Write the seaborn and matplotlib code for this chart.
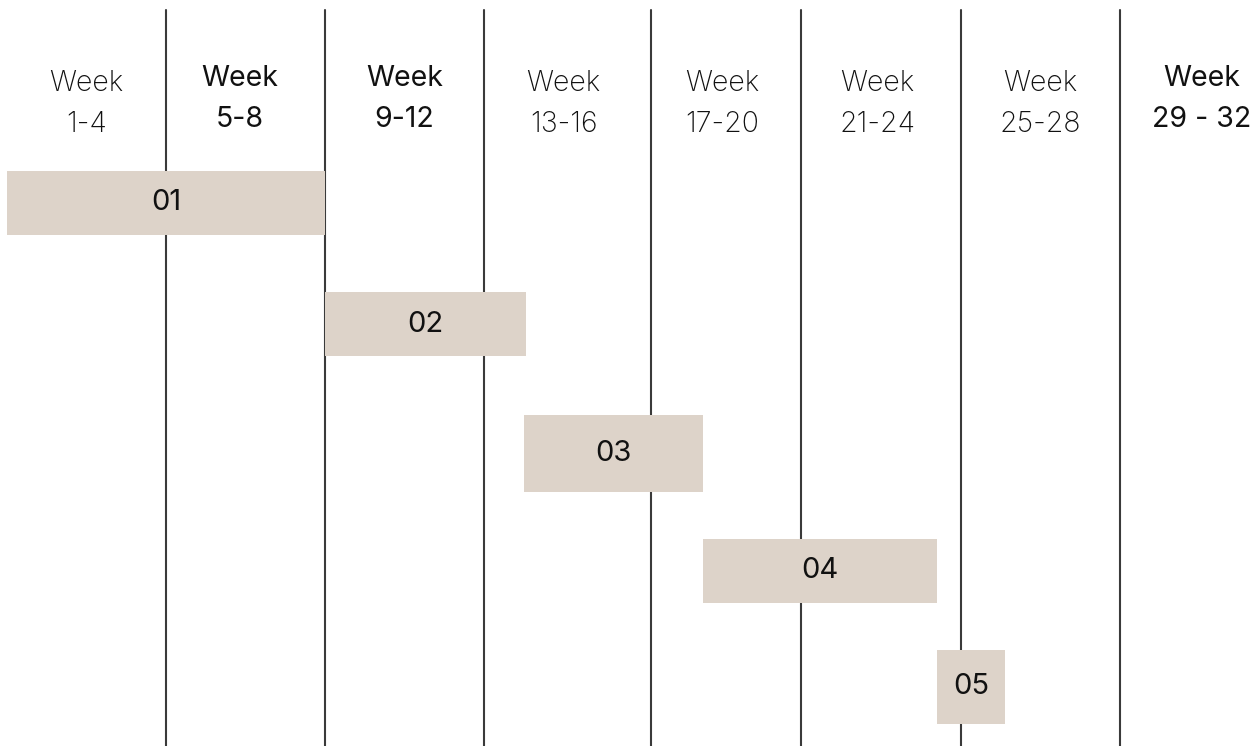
import matplotlib
matplotlib.use("Agg")
import matplotlib.pyplot as plt
import seaborn as sns
import pandas as pd

# --- data ---
tasks = ["01", "02", "03", "04", "05"]
row_pos = [0, 1.0, 2.07, 3.04, 4.0]
start_week = [0, 8, 13, 17.5, 23.4]
end_week = [8, 13.05, 17.5, 23.4, 25.1]
bar_height = [0.53, 0.53, 0.63, 0.53, 0.61]

period_labels = ["Week\n1-4", "Week\n5-8", "Week\n9-12", "Week\n13-16",
                 "Week\n17-20", "Week\n21-24", "Week\n25-28", "Week\n29 - 32"]
period_centers = [2.0, 5.85, 10.0, 14.0, 18.0, 21.9, 26.0, 30.05]
period_bold = [False, True, True, False, False, False, False, True]
divider_weeks = [4, 8, 12, 16.2, 19.97, 24, 28]

df = pd.DataFrame({"task": tasks, "row": row_pos, "start": start_week,
                   "end": end_week, "height": bar_height})
df["duration"] = df["end"] - df["start"]

sns.set_theme(style="white")
plt.rcParams["font.family"] = ["Inter", "DejaVu Sans"]

fig = plt.figure(figsize=(12.58, 7.46), dpi=100)
ax = fig.add_axes([0, 0, 1, 1])

# divider lines between week periods
for w in divider_weeks:
    ax.axvline(w, ymin=0, ymax=1 - 10 / 746, color="#3a3a3a", lw=1.5, zorder=1)

# task bars
bar_color = "#ddd3c9"
for _, row in df.iterrows():
    ax.barh(row["row"], row["duration"], left=row["start"], height=row["height"],
            color=bar_color, edgecolor="none", zorder=2)
    ax.text(row["start"] + row["duration"] / 2, row["row"], row["task"],
            ha="center", va="center", fontsize=21, color="#111111", zorder=3)

# period header labels
for x, lab, bold in zip(period_centers, period_labels, period_bold):
    ax.text(x, 1 - (104 if not bold else 99) / 746, lab,
            transform=ax.get_xaxis_transform(),
            ha="center", va="center", fontsize=20.5, linespacing=1.7,
            fontweight="normal" if bold else "light", color="#111111")

ax.set_xlim(-7 / 39.75, (1258 - 7) / 39.75)
ax.set_ylim((746 - 203) / 121, -203 / 121)
ax.axis("off")

fig.savefig("out.png", dpi=100, facecolor="white")
